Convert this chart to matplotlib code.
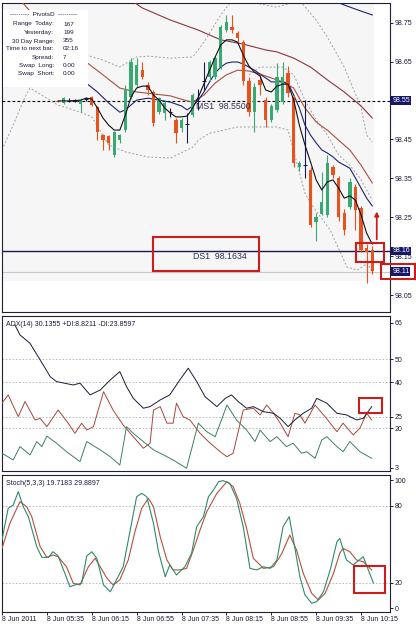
import matplotlib.pyplot as plt
from matplotlib.patches import Rectangle
import matplotlib.transforms as mtransforms

plt.rcParams['font.family'] = ['Liberation Sans', 'DejaVu Sans']
plt.rcParams['font.size'] = 5

# ---- price candles (5 min bars, bar index 0 = 8 Jun 04:55) ----
bar_idx = list(range(10, 67))
opens = [98.549, 98.543, 98.550, 98.549, 98.540, 98.553, 98.558, 98.533, 98.461, 98.458,
         98.410, 98.448, 98.474, 98.559, 98.590, 98.628, 98.590, 98.572, 98.520, 98.518,
         98.520, 98.500, 98.479, 98.490, 98.512, 98.550, 98.600, 98.610, 98.610, 98.636,
         98.731, 98.739, 98.723, 98.700, 98.600, 98.520, 98.603, 98.551, 98.500, 98.526,
         98.546, 98.620, 98.559, 98.379, 98.385, 98.371, 98.237, 98.259, 98.255, 98.379,
         98.350, 98.260, 98.276, 98.327, 98.274, 98.171, 98.166]
highs = [98.552, 98.558, 98.556, 98.553, 98.553, 98.558, 98.562, 98.535, 98.465, 98.462,
         98.472, 98.465, 98.590, 98.660, 98.659, 98.649, 98.598, 98.578, 98.560, 98.548,
         98.530, 98.505, 98.505, 98.517, 98.570, 98.580, 98.649, 98.655, 98.665, 98.745,
         98.770, 98.770, 98.730, 98.705, 98.610, 98.595, 98.620, 98.560, 98.540, 98.646,
         98.649, 98.640, 98.565, 98.395, 98.551, 98.378, 98.260, 98.366, 98.410, 98.385,
         98.355, 98.270, 98.350, 98.335, 98.280, 98.180, 98.175]
lows = [98.545, 98.540, 98.545, 98.546, 98.520, 98.548, 98.535, 98.448, 98.423, 98.423,
        98.405, 98.440, 98.470, 98.555, 98.585, 98.605, 98.565, 98.485, 98.515, 98.500,
        98.508, 98.440, 98.470, 98.440, 98.508, 98.525, 98.577, 98.600, 98.605, 98.630,
        98.725, 98.723, 98.700, 98.590, 98.510, 98.469, 98.565, 98.482, 98.495, 98.520,
        98.540, 98.560, 98.380, 98.370, 98.350, 98.225, 98.190, 98.255, 98.250, 98.350,
        98.240, 98.205, 98.270, 98.217, 98.160, 98.080, 98.105]
closes = [98.547, 98.556, 98.550, 98.549, 98.551, 98.553, 98.538, 98.469, 98.448, 98.440,
          98.469, 98.461, 98.577, 98.649, 98.641, 98.610, 98.577, 98.492, 98.556, 98.543,
          98.520, 98.466, 98.500, 98.490, 98.564, 98.550, 98.600, 98.649, 98.659, 98.739,
          98.752, 98.731, 98.710, 98.600, 98.520, 98.585, 98.590, 98.500, 98.536, 98.610,
          98.610, 98.569, 98.389, 98.389, 98.385, 98.230, 98.250, 98.289, 98.389, 98.358,
          98.250, 98.217, 98.340, 98.269, 98.166, 98.161, 98.111]

# ---- moving averages / bands on the price chart ----
ma_fast_x = [10, 12, 14, 15, 16, 17, 18, 19, 20, 21, 22, 23, 24, 25, 26, 27, 28, 29, 30, 31,
             32, 33, 34, 35, 36, 37, 38, 39, 40, 41, 42, 43, 44, 45, 46, 47, 48, 49, 50, 51,
             52, 53, 54, 55, 56, 57, 58, 59, 60, 61, 62, 63, 64, 65, 66]
ma_fast_y = [98.549, 98.549, 98.551, 98.556, 98.554, 98.531, 98.505, 98.487, 98.474, 98.474,
             98.513, 98.559, 98.582, 98.587, 98.587, 98.564, 98.551, 98.531, 98.518, 98.508,
             98.508, 98.510, 98.531, 98.559, 98.593, 98.628, 98.662, 98.693, 98.706, 98.706,
             98.700, 98.667, 98.639, 98.623, 98.613, 98.577, 98.572, 98.587, 98.592, 98.592,
             98.551, 98.487, 98.436, 98.392, 98.346, 98.320, 98.341, 98.346, 98.325, 98.299,
             98.305, 98.294, 98.256, 98.209, 98.181]
ma_mid_x = [10, 15, 17, 19, 21, 22, 24, 26, 28, 30, 32, 33, 34, 35, 36, 37, 38, 39, 40, 41,
            42, 43, 44, 45, 47, 48, 49, 50, 51, 52, 53, 54, 55, 56, 57, 58, 59, 60, 61, 62,
            63, 64, 65, 66]
ma_mid_y = [98.603, 98.595, 98.572, 98.544, 98.520, 98.526, 98.551, 98.556, 98.551, 98.546,
            98.536, 98.526, 98.536, 98.551, 98.572, 98.598, 98.621, 98.636, 98.646, 98.649,
            98.649, 98.644, 98.636, 98.628, 98.608, 98.598, 98.598, 98.598, 98.595, 98.564,
            98.531, 98.487, 98.461, 98.441, 98.423, 98.415, 98.405, 98.392, 98.384, 98.376,
            98.351, 98.325, 98.299, 98.279]
ma_slow_x = [0, 4, 8, 12, 15, 18, 21, 24, 27, 30, 33, 34, 36, 38, 40, 42, 44, 46, 48, 50,
             51, 52, 53, 54, 55, 56, 57, 58, 60, 62, 64, 66]
ma_slow_y = [98.860, 98.796, 98.731, 98.675, 98.649, 98.616, 98.582, 98.572, 98.567, 98.562,
             98.549, 98.546, 98.564, 98.595, 98.616, 98.628, 98.626, 98.618, 98.608, 98.598,
             98.590, 98.582, 98.556, 98.531, 98.513, 98.495, 98.484, 98.474, 98.448, 98.423,
             98.384, 98.338]
ma_long_x = [15, 20, 23, 25, 30, 35, 39, 43, 47, 49, 52, 55, 58, 61, 64, 66]
ma_long_y = [98.873, 98.829, 98.808, 98.788, 98.757, 98.731, 98.706, 98.695, 98.680, 98.675,
             98.659, 98.636, 98.603, 98.572, 98.536, 98.505]
ma_top_x = [56, 58, 60, 63, 66]
ma_top_y = [98.821, 98.811, 98.801, 98.785, 98.770]
band_up_x = [15, 18, 21, 24, 26, 30, 34, 36, 39, 41, 43, 45, 49, 52, 53, 56, 58, 61, 64, 65, 66]
band_up_y = [98.667, 98.654, 98.636, 98.662, 98.664, 98.659, 98.662, 98.700, 98.770, 98.808,
             98.821, 98.801, 98.790, 98.803, 98.808, 98.757, 98.713, 98.636, 98.533, 98.461,
             98.443]
band_in_x = [44, 46, 50, 52, 54, 56, 58, 60, 62, 64, 66]
band_in_y = [98.616, 98.636, 98.636, 98.616, 98.551, 98.500, 98.461, 98.410, 98.384, 98.346,
             98.294]
band_lo_x = [0, 2, 4, 5, 10, 14, 16, 19, 22, 26, 30, 34, 35, 37, 42, 47, 49, 51, 54, 55.5,
             58.5, 61.5, 63.3, 65.2, 66]
band_lo_y = [98.423, 98.487, 98.556, 98.582, 98.538, 98.520, 98.508, 98.436, 98.418, 98.405,
             98.402, 98.430, 98.448, 98.466, 98.482, 98.482, 98.482, 98.474, 98.312, 98.276,
             98.217, 98.122, 98.114, 98.132, 98.106]

ms1_level = 98.5500
ds1_level = 98.1634
bid_level = 98.11
price_ticks = [98.05, 98.15, 98.25, 98.35, 98.45, 98.65, 98.75]

info_names = ['Range  Today:', 'Yesterday:', '30 Day Range:', 'Time to next bar:',
              'Spread:', 'Swap  Long:', 'Swap  Short:']
info_values = ['167', '199', '355', '02:16', '7', '0.00', '0.00']

# ---- ADX(14) ----
adx_x = [2.3, 3.2, 5.0, 6.8, 8.6, 9.7, 12.7, 13.9, 15.7, 17.5, 19.3, 21.0, 22.2, 23.4, 25.2,
         26.4, 28.2, 29.9, 31.7, 33.2, 34.7, 36.2, 38.3, 39.8, 40.9, 42.1, 43.6, 44.8, 46.6,
         48.4, 49.6, 51.0, 52.2, 53.7, 55.2, 56.1, 57.9, 59.7, 61.4, 63.2, 64.4, 65.9]
adx_y = [65.0, 60.7, 57.0, 49.8, 42.5, 40.4, 38.9, 39.7, 34.6, 36.7, 41.1, 44.7, 38.2, 33.1,
         28.8, 29.5, 32.4, 34.6, 41.1, 46.2, 40.4, 33.8, 29.5, 33.1, 34.6, 31.7, 28.8, 29.5,
         27.3, 26.6, 24.4, 20.8, 23.7, 26.6, 28.8, 33.1, 31.0, 26.6, 25.9, 23.7, 24.4, 29.5]
pdi_x = [0, 2.0, 3.2, 5.0, 6.2, 7.1, 8.0, 9.7, 11.5, 13.9, 15.1, 17.5, 19.3, 21.0, 22.2, 23.4,
         25.2, 27.0, 28.8, 30.5, 32.9, 35.0, 36.5, 38.0, 40.1, 41.8, 43.6, 45.1, 46.0, 47.8,
         49.0, 50.7, 51.9, 53.4, 54.3, 55.8, 57.0, 57.9, 59.7, 60.8, 62.0, 63.8, 65.9]
pdi_y = [9.2, 6.3, 12.1, 8.5, 14.3, 12.1, 16.7, 13.6, 9.9, 5.6, 14.3, 10.7, 7.7, 4.1, 20.8,
         17.9, 14.3, 10.7, 8.5, 6.3, 2.7, 22.3, 18.6, 16.4, 30.2, 23.7, 19.3, 14.3, 19.3, 14.3,
         16.4, 12.1, 13.6, 9.2, 9.9, 7.0, 15.0, 16.4, 12.1, 9.9, 14.3, 9.9, 7.0]
mdi_x = [0, 1.1, 2.9, 4.1, 5.9, 6.8, 8.0, 10.0, 11.8, 13.0, 14.2, 15.1, 16.3, 18.1, 19.8, 21.6,
         23.4, 25.2, 26.4, 27.0, 28.2, 29.4, 30.5, 31.1, 32.3, 33.5, 35.3, 37.1, 38.9, 40.1,
         41.2, 43.0, 44.8, 46.0, 47.2, 48.4, 49.6, 51.0, 52.2, 53.1, 54.0, 55.8, 57.6, 59.7,
         60.8, 62.6, 63.8, 65.0, 65.9]
mdi_y = [31.0, 34.6, 25.1, 31.7, 23.7, 24.4, 20.8, 28.0, 22.3, 17.9, 22.3, 19.3, 20.8, 36.0,
         28.0, 21.5, 16.4, 11.4, 13.6, 28.0, 29.5, 22.3, 22.3, 31.0, 25.1, 23.7, 17.9, 13.6,
         9.9, 7.7, 9.2, 28.0, 28.8, 25.9, 30.2, 26.6, 22.3, 16.4, 26.6, 25.9, 22.3, 30.2, 25.1,
         18.6, 22.3, 17.2, 20.1, 26.6, 23.7]
adx_levels = [20, 25, 40, 50]
adx_ticks = [3, 20, 25, 40, 50, 66]

# ---- Stochastic(5,3,3) ----
k_x = [0, 1.1, 2.0, 2.9, 3.8, 4.7, 6.2, 7.1, 8.3, 9.1, 10.0, 11.2, 12.1, 13.0, 14.2, 15.1,
       16.0, 16.9, 18.1, 19.3, 20.4, 21.6, 22.8, 24.0, 24.9, 25.8, 27.0, 27.9, 29.1, 29.9,
       31.1, 32.6, 33.8, 34.7, 35.9, 36.8, 37.7, 38.6, 39.4, 40.6, 41.8, 43.0, 44.2, 45.4,
       46.6, 47.8, 49.0, 50.1, 51.2, 51.9, 53.1, 54.0, 55.2, 56.1, 57.3, 58.5, 59.7, 60.2,
       61.4, 62.6, 64.4, 65.3, 66.2]
k_y = [53.2, 77.9, 80.5, 90.9, 79.2, 71.4, 48.0, 39.7, 39.7, 44.1, 40.8, 27.3, 16.8, 18.2,
       19.5, 40.8, 44.1, 39.0, 18.2, 12.9, 22.1, 32.4, 59.7, 87.0, 89.6, 87.0, 66.2, 44.1,
       24.6, 33.8, 26.0, 32.4, 42.9, 63.6, 71.4, 87.0, 92.2, 98.7, 99.5, 97.4, 85.7, 63.6,
       31.1, 29.9, 32.4, 31.1, 37.6, 63.6, 71.4, 54.5, 24.6, 10.4, 3.9, 5.1, 12.9, 29.9, 51.9,
       54.5, 37.6, 33.8, 40.2, 29.9, 19.7]
d_x = [0, 1.4, 3.2, 4.4, 5.3, 6.8, 8.0, 9.1, 10.0, 11.5, 12.7, 13.9, 15.4, 16.6, 17.5, 18.7,
       19.8, 21.0, 22.5, 23.7, 24.9, 26.1, 27.0, 28.2, 29.4, 30.5, 31.7, 32.9, 34.1, 35.3,
       36.5, 38.3, 40.1, 41.2, 42.4, 43.6, 44.8, 46.6, 48.4, 49.9, 51.3, 52.5, 53.7, 55.2,
       56.4, 57.6, 59.1, 60.2, 60.8, 62.0, 63.2, 64.4, 65.9]
d_y = [46.7, 66.2, 83.1, 79.2, 71.4, 48.0, 39.7, 41.5, 40.2, 32.4, 19.5, 18.2, 32.4, 39.0,
       32.4, 23.4, 18.2, 22.1, 37.6, 59.7, 77.9, 85.7, 79.2, 55.8, 37.6, 29.9, 29.9, 31.1,
       45.4, 61.0, 75.3, 89.6, 98.7, 94.8, 81.8, 62.4, 39.0, 31.1, 32.4, 42.9, 57.1, 45.4,
       27.3, 11.7, 6.5, 11.7, 27.3, 42.9, 46.7, 44.1, 37.6, 36.3, 29.9]
stoch_levels = [20, 80]
stoch_ticks = [0, 20, 80, 100]

time_tick_idx = [0, 8, 16, 24, 32, 40, 48, 56, 64]
time_labels = ['8 Jun 2011', '8 Jun 05:35', '8 Jun 06:15', '8 Jun 06:55', '8 Jun 07:35',
               '8 Jun 08:15', '8 Jun 08:55', '8 Jun 09:35', '8 Jun 10:15']

# ---- colours ----
UP = '#3aa873'
DOWN = '#e8521c'
DOJI = '#1c1c4c'
NAVY = '#1b2470'
TXT = '#1a1a3c'
RED = '#cc1c1c'
GRID = '#b4b4b4'

W, H = 416, 625
fig = plt.figure(figsize=(W / 100, H / 100), dpi=100)


def axes_px(x0, y0, x1, y1):
    return fig.add_axes([x0 / W, 1 - y1 / H, (x1 - x0) / W, (y1 - y0) / H])


ax = axes_px(2, 3, 390, 312)
ax_adx = axes_px(2, 316, 390, 471)
ax_st = axes_px(2, 475, 390, 612)
XMAX = 388 / 5.61

for a in (ax, ax_adx, ax_st):
    a.set_xlim(0, XMAX)
    a.yaxis.tick_right()
    a.tick_params(axis='y', length=2, width=0.6, pad=1.5, labelsize=5, labelcolor=TXT)
    a.tick_params(axis='x', length=2, width=0.6, pad=1, labelsize=5, labelcolor=TXT)
    a.set_xticks([])
    for s in a.spines.values():
        s.set_linewidth(0.8)
        s.set_color('#20203a')

# ---------------- main price chart ----------------
ax.set_ylim(98.0064, 98.8007)
ax.add_patch(Rectangle((0, 98.085), 66.3, 1.0, facecolor='#f6f6f6', edgecolor='none', zorder=0))

ax.axhline(ms1_level, color='black', lw=0.8, ls=(0, (2.5, 2)), zorder=2)
ax.axhline(ds1_level, color='#1a1a50', lw=1.0, zorder=2)
ax.axhline(bid_level, color='#c8c8c8', lw=0.8, zorder=1)

dash = (0, (2, 2))
ax.plot(band_up_x, band_up_y, color='#a0a0a0', lw=0.7, ls=dash, zorder=2)
ax.plot(band_in_x, band_in_y, color='#a0a0a0', lw=0.7, ls=dash, zorder=2)
ax.plot(band_lo_x, band_lo_y, color='#a0a0a0', lw=0.7, ls=dash, zorder=2)
ax.plot(ma_long_x, ma_long_y, color='#8e3440', lw=0.8, zorder=3)
ax.plot(ma_top_x, ma_top_y, color=NAVY, lw=0.8, zorder=3)
ax.plot(ma_slow_x, ma_slow_y, color='#a8503f', lw=0.8, zorder=3)
ax.plot(ma_mid_x, ma_mid_y, color=NAVY, lw=0.8, zorder=3)

for i, o, h, l, c in zip(bar_idx, opens, highs, lows, closes):
    if c > o:
        col = UP
    elif c < o:
        col = DOWN
    else:
        col = DOJI
    ax.vlines(i, l, h, color=col, lw=0.8, zorder=4)
    if c == o:
        ax.hlines(c, i - 0.3, i + 0.3, color=col, lw=0.8, zorder=4)
    else:
        ax.bar(i, c - o, bottom=o, width=0.6, color=col, lw=0, zorder=4)

ax.plot(ma_fast_x, ma_fast_y, color='#101018', lw=0.8, zorder=5)

ax.set_yticks(price_ticks)
ax.set_yticklabels([f'{p:.2f}' for p in price_ticks])

# level labels on the price scale
trans = mtransforms.blended_transform_factory(ax.transAxes, ax.transData)
for lvl in (ms1_level, ds1_level, bid_level):
    ax.text(1.006, lvl, f'{lvl:.2f}', transform=trans, fontsize=5, color='white',
            va='center', ha='left', zorder=6,
            bbox=dict(facecolor='#16166a', edgecolor='none', pad=0.6))

ax.text(34.5, ms1_level - 0.003, 'MS1  98.5500', fontsize=6.3, color='#2e2e50', va='top', zorder=6)
ax.text(34.0, ds1_level - 0.002, 'DS1  98.1634', fontsize=6.3, color='#2e2e50', va='top', zorder=6)

# red annotation boxes and arrow
def red_box(a, x0, x1, y0, y1):
    a.add_patch(Rectangle((x0, y0), x1 - x0, y1 - y0, fill=False, edgecolor=RED,
                          lw=1.5, zorder=7, clip_on=False))

red_box(ax, 26.9, 45.8, 98.112, 98.199)
red_box(ax, 63.1, 68.1, 98.135, 98.184)
red_box(ax, 67.6, 73.7, 98.091, 98.130)
ax.annotate('', xy=(66.8, 98.272), xytext=(66.8, 98.186),
            arrowprops=dict(arrowstyle='-|>', color=RED, lw=1.3, mutation_scale=6), zorder=7)

# info panel
def fx(x):
    return x / W


def fy(y):
    return 1 - y / H


fig.add_artist(Rectangle((fx(3), fy(87)), 85 / W, 77 / H, transform=fig.transFigure,
                         facecolor='white', edgecolor='none', zorder=5))
fig.text(fx(44), fy(15), '---------  PivotsD  ---------', ha='center', va='center',
         color=TXT, fontsize=4.6, zorder=6)
rows_y = [24, 32.5, 41, 49, 57.5, 65.5, 73.5]
for ry, name, val in zip(rows_y, info_names, info_values):
    fig.text(fx(54), fy(ry), name, ha='right', va='center', color=TXT, fontsize=4.6, zorder=6)
    fig.text(fx(63), fy(ry), val, ha='left', va='center', color=TXT, fontsize=4.6, zorder=6)

# ---------------- ADX ----------------
ax_adx.set_ylim(1.5, 68.9)
for lv in adx_levels:
    ax_adx.axhline(lv, color=GRID, lw=0.6, ls=dash, zorder=1)
ax_adx.plot(mdi_x, mdi_y, color='#a5473c', lw=0.7, zorder=3)
ax_adx.plot(pdi_x, pdi_y, color='#3f7f64', lw=0.7, zorder=3)
ax_adx.plot(adx_x, adx_y, color='#1a1a38', lw=0.7, zorder=4)
ax_adx.set_yticks(adx_ticks)
ax_adx.set_yticklabels([str(t) for t in adx_ticks])
ax_adx.text(0.01, 0.97, 'ADX(14) 30.1355 +DI:8.8211 -DI:23.8597', transform=ax_adx.transAxes,
            fontsize=5, color=TXT, va='top', ha='left')
red_box(ax_adx, 63.6, 67.7, 26.7, 33.3)

# ---------------- Stochastic ----------------
ax_st.set_ylim(-2.9, 103.9)
for lv in stoch_levels:
    ax_st.axhline(lv, color=GRID, lw=0.6, ls=dash, zorder=1)
ax_st.plot(d_x, d_y, color='#b1523e', lw=0.8, zorder=3)
ax_st.plot(k_x, k_y, color='#2f8a6c', lw=0.8, zorder=4)
ax_st.set_yticks(stoch_ticks)
ax_st.set_yticklabels([str(t) for t in stoch_ticks])
ax_st.text(0.01, 0.96, 'Stoch(5,3,3) 19.7183 29.8897', transform=ax_st.transAxes,
           fontsize=5, color=TXT, va='top', ha='left')
red_box(ax_st, 62.7, 68.3, 11.9, 33.0)

ax_st.set_xticks(time_tick_idx)
ax_st.set_xticklabels(time_labels, ha='left')

fig.savefig('out.png', dpi=100, facecolor='white')
